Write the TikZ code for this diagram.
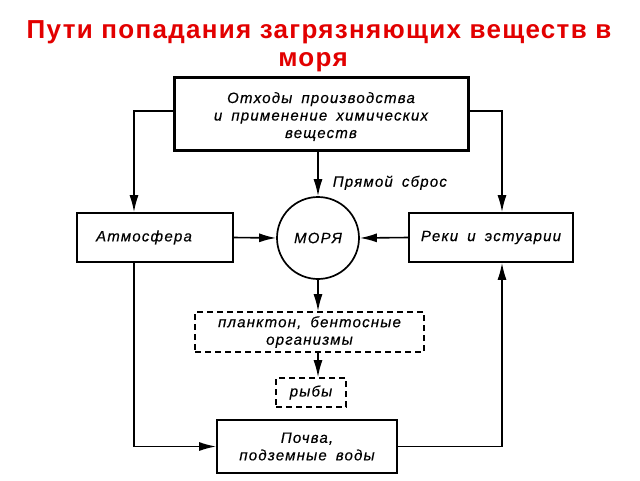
\documentclass[tikz,border=0pt]{standalone}
\usepackage{fontspec}
\setmainfont{Liberation Sans}[LetterSpace=8,WordSpace=1.7,FakeBold=0.4]
\newfontfamily\titlefont{Liberation Sans}[LetterSpace=5]
\usetikzlibrary{arrows.meta}

\definecolor{titlered}{RGB}{226,0,0}

\begin{document}
\begin{tikzpicture}[x=1pt,y=-1pt,
    every node/.style={font=\fontsize{15}{17.5}\selectfont\itshape,align=center,inner sep=0pt},
    titletext/.style={font=\titlefont\fontsize{26}{28}\selectfont\bfseries,text=titlered,anchor=base},
    box/.style={draw,line width=1.7pt,rectangle},
    dashbox/.style={draw,line width=1.6pt,dash pattern=on 6pt off 4pt},
    arr/.style={line width=1.6pt,-{Latex[length=17pt,width=9pt]}}]
  \useasboundingbox (0,0) rectangle (640,480);

% title
  \node[titletext] (title) at (319,38) {Пути попадания загрязняющих веществ в};
  \node[titletext] (title2) at (313,66) {моря};

% sources
  \node[box,line width=3pt,minimum width=294pt,minimum height=73pt] (waste) at (321,113.5)
    {\rule{0pt}{17pt}Отходы производства\\и применение химических\\веществ};
  \node[box,minimum width=156pt,minimum height=49pt] (atm) at (155,237.5) {Атмосфера\hspace*{22pt}};
  \node[box,minimum width=164pt,minimum height=49pt] (river) at (491,237.5) {Реки и эстуарии};
  \node[draw,circle,line width=1.7pt,minimum size=82pt] (sea) at (318,238) {МОРЯ};

% living part
  \node[dashbox,minimum width=229pt,minimum height=40pt] (plankton) at (309.5,332)
    {планктон, бентосные\\организмы};
  \node[dashbox,minimum width=70pt,minimum height=29pt] (fish) at (311,392.5) {рыбы};
  \node[box,minimum width=180pt,minimum height=53pt] (soil) at (307,446.5)
    {Почва,\\подземные воды};

  \coordinate (atmin) at ([xshift=-21pt]atm.north);
  \coordinate (atmout) at ([xshift=-21pt]atm.south);
  \coordinate (riverin) at ([xshift=11pt]river.north);
  \coordinate (riverout) at ([xshift=11pt]river.south);

% connectors
  \draw[arr] (waste.west |- 0,111) -| (atmin);
  \draw[arr] (waste.east |- 0,111) -| (riverin);
  \draw[arr] (waste.south -| sea.north) -- (sea.north)
    node[pos=0.7,right=14pt,anchor=west] (direct) {Прямой сброс};
  \draw[arr] (atm.east) -- (sea.west);
  \draw[arr] (river.west) -- (sea.east);
  \draw[arr] (sea.south) -- (sea.south |- plankton.north);
  \draw[arr] (plankton.south -| sea.south) -- (fish.north -| sea.south);
  \draw[arr] (atmout) |- (soil.west);
  \draw[arr] (soil.east) -| (riverout);

\end{tikzpicture}
\end{document}
